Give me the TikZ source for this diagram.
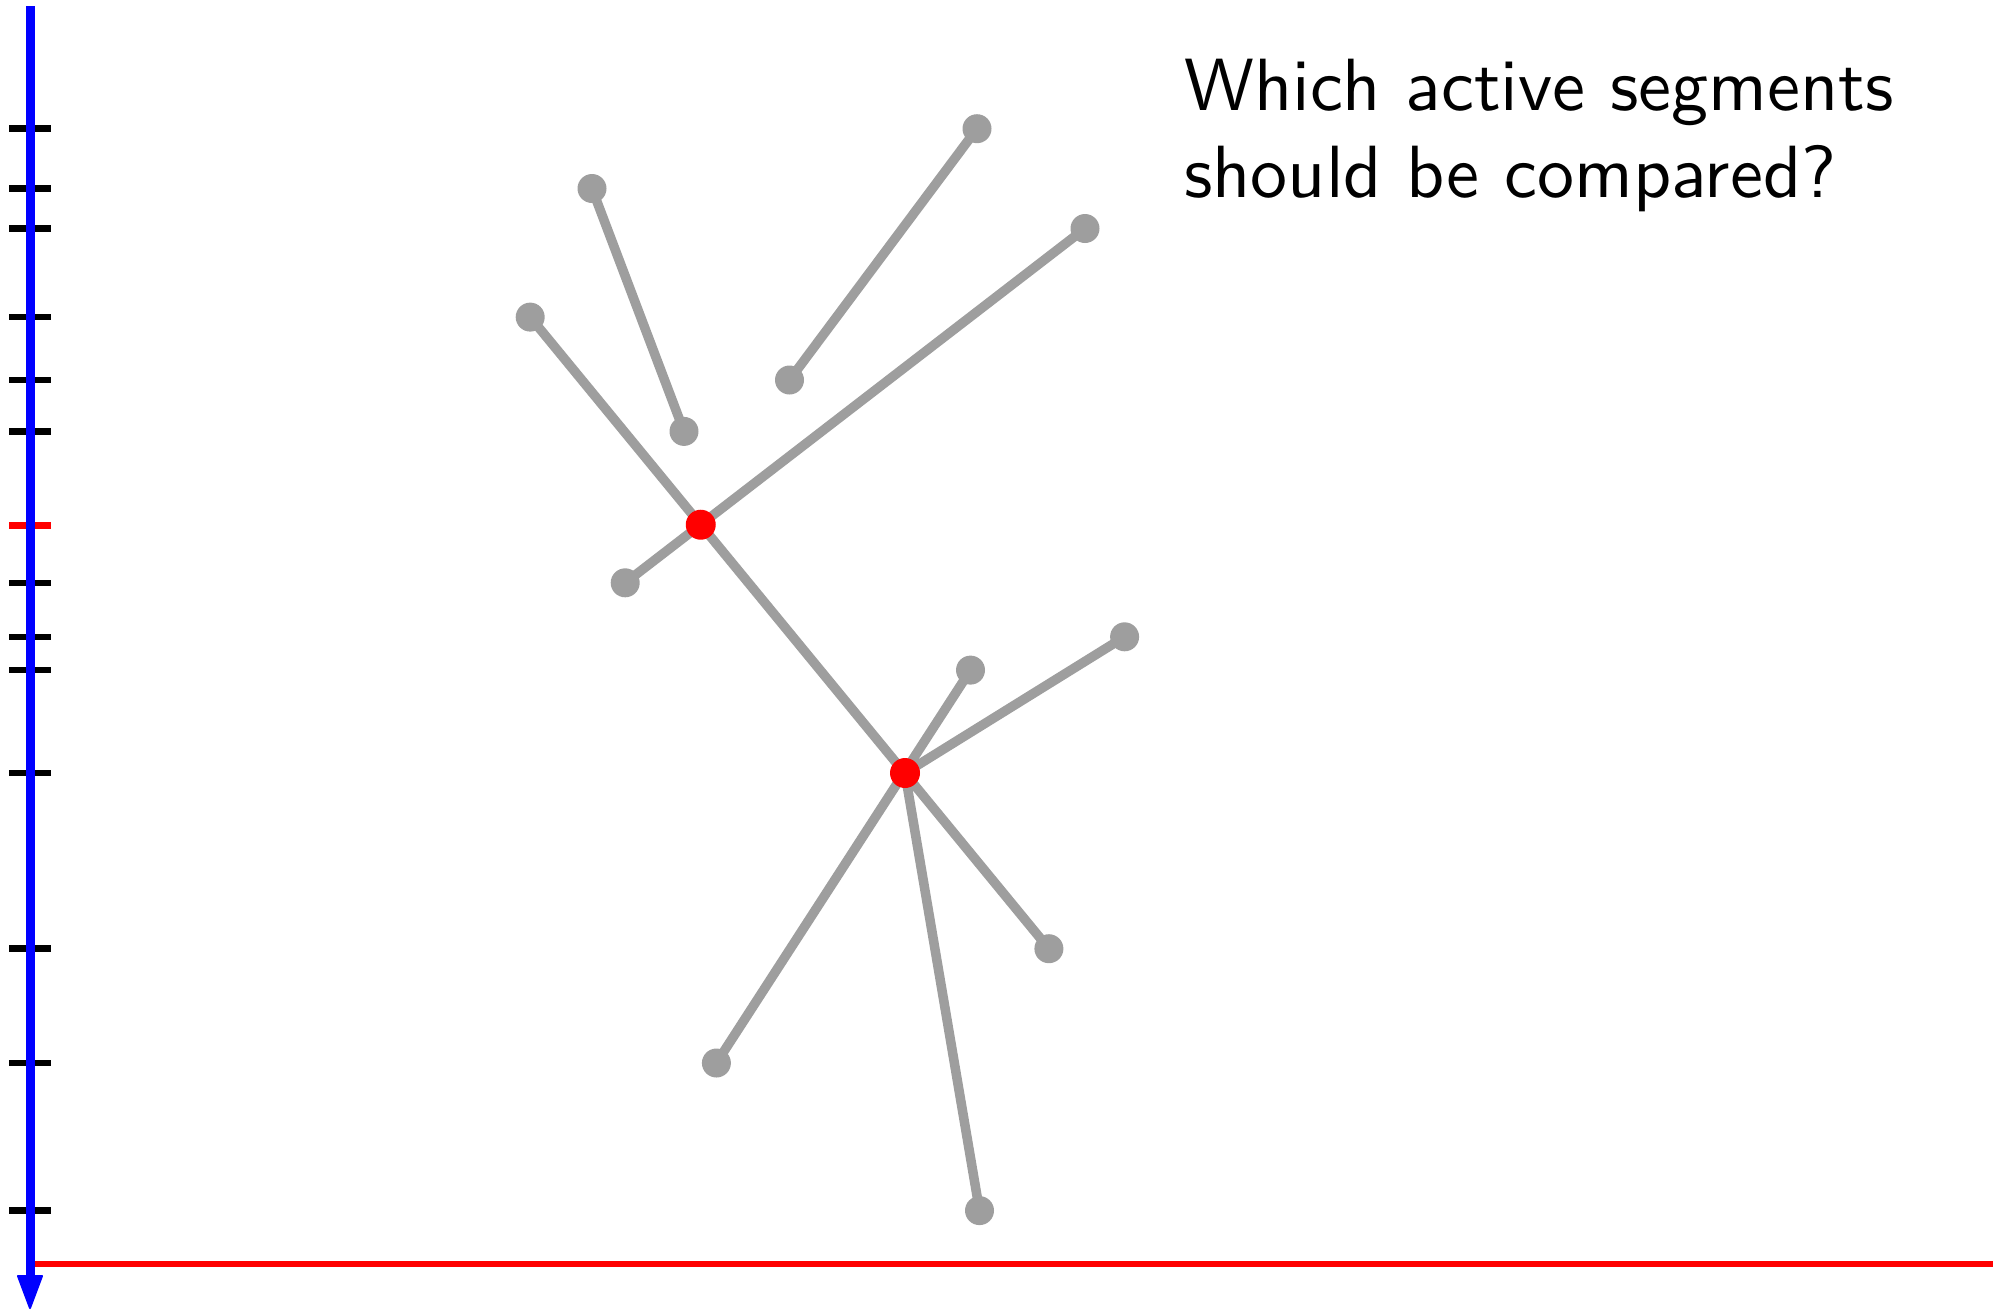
\documentclass[tikz,border=0pt]{standalone}
\usepackage{fontspec}
\newfontfamily\qfont[Extension=.otf]{lmsans10-regular}
\definecolor{seggray}{RGB}{158,158,158}
\definecolor{axblue}{RGB}{0,0,255}
\definecolor{evred}{RGB}{255,0,0}
\tikzset{
  seg/.style={draw=seggray, line width=9.5pt},
  enddot/.style={circle, fill=seggray, minimum size=29pt, inner sep=0pt},
  evdot/.style={circle, fill=evred, minimum size=30pt, inner sep=0pt},
  tick/.style={draw=black, line width=6.5pt},
  redtick/.style={draw=evred, line width=6.5pt},
  qtext/.style={font=\qfont\fontsize{74}{87}\selectfont, anchor=base west, inner sep=0pt}
}
\begin{document}
\begin{tikzpicture}[x=1pt,y=-1pt]
\useasboundingbox (0,0) rectangle (2013,1310);
% endpoints
\coordinate (A) at (592,188.5);
\coordinate (B) at (684,431.4);
\coordinate (C) at (977,128.7);
\coordinate (D) at (789.5,380);
\coordinate (E) at (1085,228.5);
\coordinate (F) at (625.2,582.8);
\coordinate (G) at (530.2,317.1);
\coordinate (P) at (905,773);
\coordinate (H) at (970.5,670.1);
\coordinate (I) at (716.4,1063);
\coordinate (J) at (1124.6,636.8);
\coordinate (K) at (1048.9,948.7);
\coordinate (L) at (979.5,1210.6);
\coordinate (Q) at (intersection of G--K and E--F);
% axis ticks
\foreach \y in {128.4,188.5,228.5,317.1,380,431.4,582.8,636.8,670.1,773,948.7,1063,1210.6}
  \draw[tick] (9,\y) -- (51,\y);
\draw[redtick] (9,525.5) -- (51,525.5);
% sweep line
\coordinate (s0) at (34,1264);
\coordinate (s1) at (1993,1264);
\draw[draw=evred, line width=5.7pt] (s0) -- (s1);
% vertical axis with arrowhead
\coordinate (ax0) at (30,6);
\coordinate (ax1) at (30,1282);
\draw[draw=axblue, line width=9pt] (ax0) -- (ax1);
\filldraw[fill=axblue, draw=axblue, line width=2pt, line join=round]
  (18,1276) -- (42,1276) -- (30,1308) -- cycle;
% segments
\draw[seg] (A) -- (B);
\draw[seg] (C) -- (D);
\draw[seg] (E) -- (F);
\draw[seg] (G) -- (K);
\draw[seg] (H) -- (I);
\draw[seg] (J) -- (P);
\draw[seg] (P) -- (L);
% endpoint dots
\foreach \p in {A,B,C,D,E,F,G,H,I,J,K,L}
  \node[enddot] (d\p) at (\p) {};
\node[evdot] (dP) at (P) {};
\node[evdot] (dQ) at (Q) {};
% text
\node[qtext] (t1) at (1184,110.7) {Which active segments};
\node[qtext] (t2) at (1184,197.5) {should be compared?};
\end{tikzpicture}
\end{document}
